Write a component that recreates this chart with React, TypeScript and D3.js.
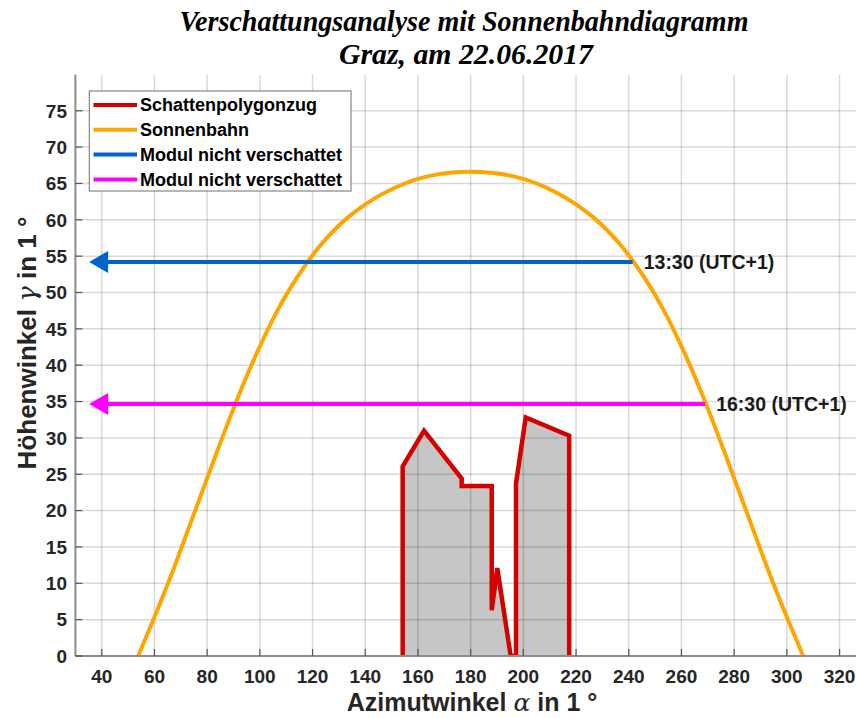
import React from "react";
import * as d3 from "d3";

// Sun path for Graz, 22.06.2017 (azimuth / elevation in degrees, morning half)
const sunAzMorning = [53.8, 59.6, 62.3, 67.4, 72.3, 77.4, 82.5, 87.8, 93.4, 99.5, 106.2, 114.0, 123.0, 134.0, 147.2, 162.8, 180];
const sunAltMorning = [0, 5, 7.4, 12.1, 16.9, 21.9, 26.9, 32.0, 37.1, 42.2, 47.2, 52.0, 56.5, 60.5, 63.7, 65.9, 66.6];

// Shadow polygon of the horizon obstruction
const shadeAz = [154.2, 154.2, 162.3, 176.6, 176.6, 188.0, 188.0, 190.1, 195.2, 197.2, 197.2, 200.9, 217.4, 217.4];
const shadeAlt = [0, 26.1, 31.0, 24.4, 23.4, 23.4, 6.3, 12.1, 0, 0, 23.7, 32.8, 30.3, 0];

// Unshaded module times
const moduleAlt = [54.2, 34.66];
const moduleAzEnd = [241.5, 269];
const moduleLabels = ["13:30 (UTC+1)", "16:30 (UTC+1)"];
const moduleColors = ["#0064c8", "#ff00ff"];

const xTicks = d3.range(40, 321, 20);
const yTicks = d3.range(0, 76, 5);

const legendLabels = ["Schattenpolygonzug", "Sonnenbahn", "Modul nicht verschattet", "Modul nicht verschattet"];
const legendColors = ["#d40000", "#ffa500", "#0064c8", "#ff00ff"];

const W = 856;
const H = 718;
const left = 75.4;
const bottom = 656;
const top = 74.4;

export default function App() {
  const x = d3.scaleLinear().domain([30, 330]).range([left, left + 300 * 2.635]);
  const y = d3.scaleLinear().domain([0, 80]).range([bottom, top]);

  const sunPts: [number, number][] = [
    ...sunAzMorning.map((a, i) => [a, sunAltMorning[i]] as [number, number]),
    ...sunAzMorning
      .slice(0, -1)
      .map((a, i) => [360 - a, sunAltMorning[i]] as [number, number])
      .reverse(),
  ];
  const sunLine = d3
    .line<[number, number]>()
    .x((d) => x(d[0]))
    .y((d) => y(d[1]))
    .curve(d3.curveCatmullRom.alpha(0.5));

  const shadePts: [number, number][] = shadeAz.map((a, i) => [a, shadeAlt[i]]);
  const shadeLine = d3
    .line<[number, number]>()
    .x((d) => x(d[0]))
    .y((d) => y(d[1]));

  const arrowTipAz = 35.2;
  const font = "'Liberation Sans', Arial, Helvetica, sans-serif";

  return (
    <svg
      width={W}
      height={H}
      style={{ position: "absolute", left: 0, top: 0, background: "#fff" }}
      fontFamily={font}
    >
      <defs>
        <clipPath id="plotArea">
          <rect x={left} y={top} width={W - left} height={bottom - top} />
        </clipPath>
      </defs>

      {/* Title */}
      <text
        x={464}
        y={31}
        textAnchor="middle"
        fontFamily="'Liberation Serif', 'Times New Roman', serif"
        fontWeight="bold"
        fontStyle="italic"
        fontSize={30}
        textLength={569}
        lengthAdjust="spacingAndGlyphs"
        fill="#000"
      >
        Verschattungsanalyse mit Sonnenbahndiagramm
      </text>
      <text
        x={466}
        y={64}
        textAnchor="middle"
        fontFamily="'Liberation Serif', 'Times New Roman', serif"
        fontWeight="bold"
        fontStyle="italic"
        fontSize={30}
        textLength={254}
        lengthAdjust="spacingAndGlyphs"
        fill="#000"
      >
        Graz, am 22.06.2017
      </text>

      <g clipPath="url(#plotArea)">
        {/* Shadow polygon fill */}
        <path d={shadeLine(shadePts) + "Z"} fill="#c6c6c6" stroke="none" />

        {/* Grid */}
        {xTicks.map((t) => (
          <line key={"gx" + t} x1={x(t)} x2={x(t)} y1={top} y2={bottom} stroke="rgba(0,0,0,0.15)" strokeWidth={1.5} />
        ))}
        {yTicks.map((t) => (
          <line key={"gy" + t} x1={left} x2={W} y1={y(t)} y2={y(t)} stroke="rgba(0,0,0,0.15)" strokeWidth={1.5} />
        ))}

        {/* Shadow polygon outline */}
        <path d={shadeLine(shadePts) || ""} fill="none" stroke="#d40000" strokeWidth={4.5} strokeLinejoin="miter" />

        {/* Sun path */}
        <path d={sunLine(sunPts) || ""} fill="none" stroke="#ffa500" strokeWidth={4} />

        {/* Unshaded module markers */}
        {moduleAlt.map((alt, i) => {
          const yy = y(alt);
          const tip = x(arrowTipAz);
          return (
            <g key={"m" + i}>
              <line x1={x(moduleAzEnd[i])} x2={tip + 10} y1={yy} y2={yy} stroke={moduleColors[i]} strokeWidth={4} />
              <path d={`M${tip},${yy}L${tip + 19},${yy - 11}L${tip + 19},${yy + 11}Z`} fill={moduleColors[i]} />
            </g>
          );
        })}
      </g>

      {moduleAlt.map((alt, i) => (
        <text
          key={"ml" + i}
          x={x(moduleAzEnd[i]) + 11}
          y={y(alt)}
          dy="0.35em"
          fontSize={19.5}
          fontWeight="bold"
          fill="#1a1a1a"
        >
          {moduleLabels[i]}
        </text>
      ))}

      {/* Axes */}
      <line x1={left} x2={W} y1={bottom} y2={bottom} stroke="#8c8c8c" strokeWidth={2} />
      <line x1={left} x2={left} y1={top} y2={bottom} stroke="#8c8c8c" strokeWidth={2} />
      {xTicks.map((t) => (
        <g key={"xt" + t}>
          <line x1={x(t)} x2={x(t)} y1={bottom} y2={bottom - 7} stroke="#555" strokeWidth={1.2} />
          <text x={x(t)} y={683} textAnchor="middle" fontSize={19} fontWeight="bold" fill="#262626">
            {t}
          </text>
        </g>
      ))}
      {yTicks.map((t) => (
        <g key={"yt" + t}>
          <line x1={left} x2={left + 7} y1={y(t)} y2={y(t)} stroke="#555" strokeWidth={1.2} />
          <text x={67} y={y(t)} dy="0.36em" textAnchor="end" fontSize={19} fontWeight="bold" fill="#262626">
            {t}
          </text>
        </g>
      ))}

      {/* Axis titles */}
      <text x={472} y={711} textAnchor="middle" fontSize={25} fontWeight="bold" fill="#262626">
        Azimutwinkel{" "}
        <tspan fontFamily="'DejaVu Serif', serif" fontStyle="italic" fontWeight="normal">
          α
        </tspan>{" "}
        in 1 °
      </text>
      <text
        transform="translate(36,343) rotate(-90)"
        textAnchor="middle"
        fontSize={26}
        fontWeight="bold"
        fill="#262626"
      >
        Höhenwinkel{" "}
        <tspan fontFamily="'DejaVu Serif', serif" fontStyle="italic" fontWeight="normal">
          γ
        </tspan>{" "}
        in 1 °
      </text>

      {/* Legend */}
      <rect x={89.3} y={91} width={261.7} height={100} fill="#fff" stroke="#6e6e6e" strokeWidth={1} />
      {legendLabels.map((lab, i) => {
        const yy = 105 + i * 24.8;
        return (
          <g key={"lg" + i}>
            <line x1={93.5} x2={137} y1={yy} y2={yy} stroke={legendColors[i]} strokeWidth={4} />
            <text x={140} y={yy} dy="0.35em" fontSize={18} fontWeight="bold" fill="#000">
              {lab}
            </text>
          </g>
        );
      })}
    </svg>
  );
}
